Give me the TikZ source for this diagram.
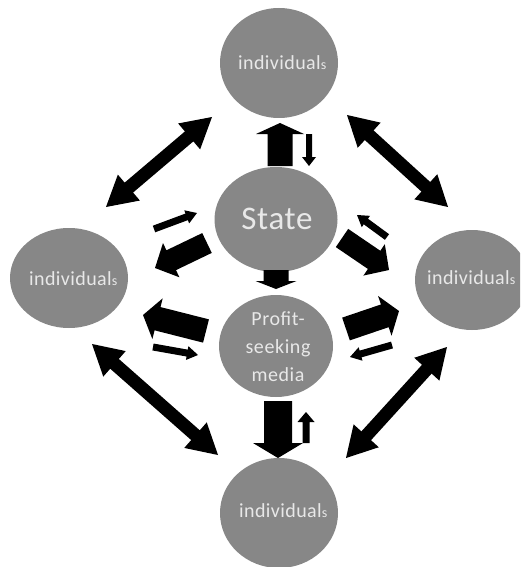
\documentclass[tikz,border=0pt]{standalone}
\usepackage{fontspec}
\setmainfont{Carlito}
\newfontfamily\indfont[LetterSpace=2]{Carlito}
\newfontfamily\statefont[LetterSpace=2]{Carlito}
\newfontfamily\mediafont[LetterSpace=3]{Carlito}
\usetikzlibrary{calc,shapes.geometric}
\definecolor{circgray}{RGB}{135,135,135}
\definecolor{txtgray}{RGB}{232,232,232}

% single block arrow: tail, tip, shaft half width, head half width, head length
\newcommand{\blockarrow}[5]{%
  \path ($(#2)!#5!(#1)$) coordinate (ba-h);
  \fill[black] ($(#1)!#3!90:(#2)$) -- ($(ba-h)!#3!90:(#2)$) -- ($(ba-h)!#4!90:(#2)$)
    -- (#2) -- ($(ba-h)!#4!-90:(#2)$) -- ($(ba-h)!#3!-90:(#2)$) -- ($(#1)!#3!-90:(#2)$) -- cycle;}
% double block arrow: tip A, tip B, shaft half width, head half width, head length
\newcommand{\dblarrow}[5]{%
  \path ($(#1)!#5!(#2)$) coordinate (da-a) ($(#2)!#5!(#1)$) coordinate (da-b);
  \fill[black] (#1) -- ($(da-a)!#4!90:(#2)$) -- ($(da-a)!#3!90:(#2)$)
    -- ($(da-b)!#3!-90:(#1)$) -- ($(da-b)!#4!-90:(#1)$) -- (#2)
    -- ($(da-b)!#4!90:(#1)$) -- ($(da-b)!#3!90:(#1)$)
    -- ($(da-a)!#3!-90:(#2)$) -- ($(da-a)!#4!-90:(#2)$) -- cycle;}

\begin{document}
\begin{tikzpicture}[x=1pt,y=-1pt,
  blob/.style={ellipse, fill=circgray, draw=none, inner sep=0pt},
  indlabel/.style={anchor=base west, inner sep=0pt, text=txtgray, font=\indfont\fontsize{20}{22}\selectfont},
  statelabel/.style={anchor=base, inner sep=0pt, text=txtgray, font=\statefont\fontsize{33}{36}\selectfont},
  medialabel/.style={anchor=center, inner sep=0pt, align=center, text=txtgray, font=\mediafont\fontsize{20}{28}\selectfont}]
\clip (0,0) rectangle (520,567);
\fill[white] (0,0) rectangle (520,567);

% circles
\node[blob, minimum width=118pt, minimum height=110pt] (top) at (279,63) {};
\node[blob, minimum width=123pt, minimum height=105pt] (state) at (276,219.5) {};
\node[blob, minimum width=114pt, minimum height=102pt] (media) at (276,346) {};
\node[blob, minimum width=118pt, minimum height=100pt] (left) at (69,278) {};
\node[blob, minimum width=114pt, minimum height=100pt] (right) at (472,280) {};
\node[blob, minimum width=118pt, minimum height=110pt] (bottom) at (279,513) {};

% labels
\node[indlabel] (ttop) at (238,70) {individual{\fontsize{14}{14}\selectfont s}};
\node[indlabel] (tleft) at (29,285) {individual{\fontsize{14}{14}\selectfont s}};
\node[indlabel] (tright) at (427,284) {individual{\fontsize{14}{14}\selectfont s}};
\node[indlabel] (tbottom) at (239,517) {individual{\fontsize{14}{14}\selectfont s}};
\node[statelabel] (tstate) at (277,229) {State};
\node[medialabel] (tmedia) at (278,346.5) {Profit-\\seeking\\media};

% arrow end points
\coordinate (d1a) at (212,117); \coordinate (d1b) at (106,207);
\coordinate (d2a) at (347,115); \coordinate (d2b) at (448,207);
\coordinate (d3a) at (92,344);  \coordinate (d3b) at (218,455);
\coordinate (d4a) at (447,347); \coordinate (d4b) at (346,458);

\coordinate (s-top) at (280,166); \coordinate (top-s) at (280,123);
\coordinate (top-s2) at (309,134); \coordinate (s-top2) at (309,166);
\coordinate (s-left) at (207,243); \coordinate (left-s) at (155,268);
\coordinate (left-s2) at (154,229); \coordinate (s-left2) at (197,213);
\coordinate (s-right) at (342,238); \coordinate (right-s) at (389,270);
\coordinate (right-s2) at (387,237); \coordinate (s-right2) at (357,215);
\coordinate (s-media) at (276,270); \coordinate (media-s) at (276,289);
\coordinate (m-left) at (206,331); \coordinate (left-m) at (143,315);
\coordinate (left-m2) at (153,347); \coordinate (m-left2) at (198,355);
\coordinate (m-right) at (346,329); \coordinate (right-m) at (399,311);
\coordinate (right-m2) at (392,345); \coordinate (m-right2) at (350,357);
\coordinate (m-bottom) at (278,401); \coordinate (bottom-m) at (278,458);
\coordinate (bottom-m2) at (306,443); \coordinate (m-bottom2) at (306,412);

% double arrows between individuals
\dblarrow{d1a}{d1b}{6.5pt}{17pt}{30pt}
\dblarrow{d2a}{d2b}{6.5pt}{17pt}{30pt}
\dblarrow{d3a}{d3b}{6.5pt}{17pt}{30pt}
\dblarrow{d4a}{d4b}{6.5pt}{17pt}{30pt}

% state arrows
\blockarrow{s-top}{top-s}{12.5pt}{24pt}{11pt}
\blockarrow{top-s2}{s-top2}{3pt}{7pt}{9pt}
\blockarrow{s-left}{left-s}{11pt}{19pt}{18pt}
\blockarrow{left-s2}{s-left2}{3.5pt}{7pt}{11pt}
\blockarrow{s-right}{right-s}{11pt}{19pt}{18pt}
\blockarrow{right-s2}{s-right2}{3.5pt}{7pt}{11pt}
\blockarrow{s-media}{media-s}{12.5pt}{20.5pt}{8pt}

% media arrows
\blockarrow{m-left}{left-m}{12pt}{21pt}{15pt}
\blockarrow{left-m2}{m-left2}{3.5pt}{7pt}{11pt}
\blockarrow{m-right}{right-m}{12pt}{21pt}{15pt}
\blockarrow{right-m2}{m-right2}{3.5pt}{7pt}{11pt}
\blockarrow{m-bottom}{bottom-m}{14pt}{25pt}{15pt}
\blockarrow{bottom-m2}{m-bottom2}{3.5pt}{8.5pt}{10pt}
\end{tikzpicture}
\end{document}
